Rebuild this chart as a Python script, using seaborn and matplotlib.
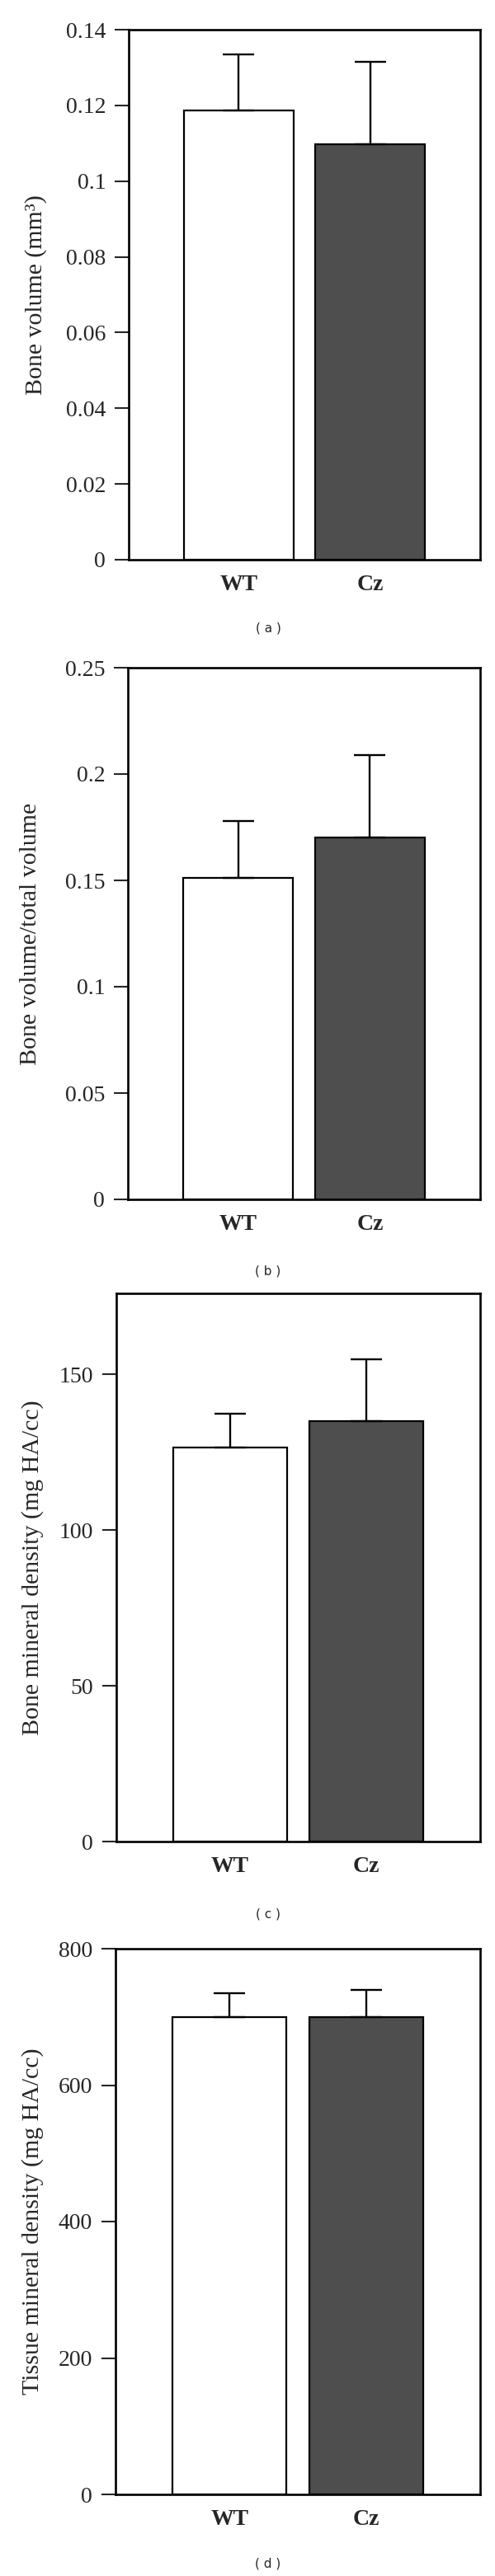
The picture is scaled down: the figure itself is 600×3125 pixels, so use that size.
import matplotlib
matplotlib.use("Agg")
import matplotlib.pyplot as plt
import seaborn as sns

# data
groups = ["WT", "Cz"]

bone_volume = [0.1186, 0.1097]
bone_volume_err = [0.0148, 0.0218]

bv_tv = [0.151, 0.170]
bv_tv_err = [0.027, 0.039]

bmd = [126.4, 135.1]
bmd_err = [11.0, 19.7]

tmd = [700, 700]
tmd_err = [35, 40]

ylabels = ["Bone volume (mm³)", "Bone volume/total volume",
           "Bone mineral density (mg HA/cc)", "Tissue mineral density (mg HA/cc)"]
captions = ["( a )", "( b )", "( c )", "( d )"]
yticks_list = [
    [0, 0.02, 0.04, 0.06, 0.08, 0.1, 0.12, 0.14],
    [0, 0.05, 0.1, 0.15, 0.2, 0.25],
    [0, 50, 100, 150],
    [0, 200, 400, 600, 800],
]
ytick_labels = [
    ["0", "0.02", "0.04", "0.06", "0.08", "0.1", "0.12", "0.14"],
    ["0", "0.05", "0.1", "0.15", "0.2", "0.25"],
    ["0", "50", "100", "150"],
    ["0", "200", "400", "600", "800"],
]
ylims = [(0, 0.14), (0, 0.25), (0, 176), (0, 800)]

# settings
sns.set_style("ticks")
plt.rcParams["font.family"] = ["Liberation Serif", "DejaVu Serif"]

W, H = 600, 3125
fig = plt.figure(figsize=(W / 100, H / 100), dpi=100)

# axes boxes in pixels: left, right, top, bottom
boxes = [(156, 582, 36, 679), (155, 582, 810, 1455),
         (141, 582, 1569, 2234), (140, 582, 2364, 3026)]
label_x = [44, 37, 40, 40]
caption_y = [762, 1542, 2322, 3110]

panels = [(bone_volume, bone_volume_err), (bv_tv, bv_tv_err),
          (bmd, bmd_err), (tmd, tmd_err)]

for i, (vals, errs) in enumerate(panels):
    l, r, t, b = boxes[i]
    ax = fig.add_axes([l / W, 1 - b / H, (r - l) / W, (b - t) / H])

    sns.barplot(x=groups, y=vals, hue=groups, palette=["white", "#4e4e4e"],
                edgecolor="black", linewidth=1.6, width=0.836,
                errorbar=None, legend=False, ax=ax)
    ax.errorbar(x=[0, 1], y=vals, yerr=[[0, 0], errs], fmt="none",
                ecolor="black", elinewidth=1.7, capsize=13.6, capthick=1.7,
                zorder=1)

    ax.set_xlim(-0.836, 1.836)
    ax.set_ylim(*ylims[i])
    ax.set_yticks(yticks_list[i])
    ax.set_yticklabels(ytick_labels[i])
    ax.tick_params(axis="y", direction="out", length=12, width=1.5,
                   pad=8, labelsize=20)
    ax.tick_params(axis="x", length=0, pad=13)
    for lab in ax.get_xticklabels():
        lab.set_fontsize(20)
        lab.set_fontweight("bold")

    for sp in ax.spines.values():
        sp.set_visible(True)
        sp.set_linewidth(1.9)
        sp.set_color("black")

    ax.set_xlabel("")
    ax.set_ylabel(ylabels[i], fontsize=21.5)
    ax.yaxis.label.set_va("center")
    ax.yaxis.set_label_coords((label_x[i] - l) / (r - l), 0.5)

    fig.text(325 / W, 1 - caption_y[i] / H, captions[i], ha="center",
             va="center", fontsize=11, family="DejaVu Sans")

plt.savefig("out.png", dpi=100)
plt.close()
